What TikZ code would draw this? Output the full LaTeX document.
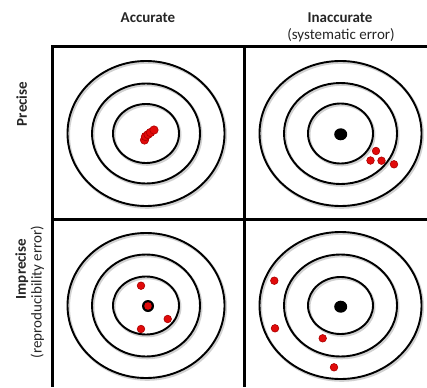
\documentclass[tikz,border=0pt]{standalone}
\usepackage{fontspec}
\setmainfont{Carlito}
\definecolor{hitred}{RGB}{225,10,10}
\definecolor{hitedge}{RGB}{170,0,0}
\begin{document}
\begin{tikzpicture}[x=1pt,y=-1pt,
  frame/.style={line width=3pt,black},
  ring/.style={line width=1.9pt,black},
  ringshadow/.style={line width=2.6pt,black!18},
  hit/.style={fill=hitred,draw=hitedge,line width=0.6pt},
  bull/.style={fill=black},
  head/.style={font=\fontsize{15}{17}\selectfont\bfseries,text=black!85,inner sep=0pt},
  sub/.style={font=\fontsize{15}{17}\selectfont,text=black!85,inner sep=0pt}]
\useasboundingbox (0,0) rectangle (427,387);
\fill[white] (0,0) rectangle (427,387);

% grid frame
\draw[frame] (52,47) -- (427,47);
\draw[frame] (52,219) -- (427,219);
\draw[frame] (52,45.5) -- (52,387);
\draw[frame] (244,45.5) -- (244,387);

% three concentric rings per target, with a soft shadow
\newcommand\target[8]{%
  \foreach \rx/\ry in {#3/#4,#5/#6,#7/#8}{
    \draw[ringshadow] (#1+1.2,#2+1.5) ellipse [x radius=\rx, y radius=\ry];}
  \foreach \rx/\ry in {#3/#4,#5/#6,#7/#8}{
    \draw[ring] (#1,#2) ellipse [x radius=\rx, y radius=\ry];}
}
\target{146}{133.5}{78.5}{72.5}{54}{50}{33}{29.5}
\target{340.5}{133.5}{81}{72.5}{56.5}{50.5}{32.5}{30}
\target{146}{305.5}{78.5}{72.5}{54}{51}{33}{29}
\target{340.5}{305.5}{81}{73.5}{56.5}{51}{32.5}{28.5}

% bull's-eyes
\fill[bull] (340.7,134.3) ellipse [x radius=6.5, y radius=6];
\fill[bull] (148,306) circle (6);
\fill[bull] (340.7,306.7) ellipse [x radius=6.5, y radius=6];

% accurate, precise: tight cluster on the centre
\foreach \p in {(144.5,140),(145.5,136.5),(148,134.5),(150.5,132.5),(154,130)}
  \draw[hit] \p circle (4.2);
% inaccurate, precise
\foreach \p in {(376,151),(370.5,160.5),(381.5,160.7),(394,164.3)}
  \draw[hit] \p circle (3.8);
% accurate, imprecise
\fill[hitred] (148,306) circle (3.8);
\foreach \p in {(141,285.7),(167.7,319),(141,329)}
  \draw[hit] \p circle (3.8);
% inaccurate, imprecise
\foreach \p in {(274.3,280.7),(275,328.3),(322.7,338.3),(334,367.3)}
  \draw[hit] \p circle (3.8);

% labels
\node[head] (acc) at (148,18) {Accurate};
\node[head] (inacc) at (340,18) {Inaccurate};
\node[sub] (syst) at (341,35) {(systematic error)};
\node[head,rotate=90] (prec) at (21.7,104) {Precise};
\node[head,rotate=90] (imprec) at (21.7,269) {Imprecise};
\node[sub,rotate=90] (repro) at (37.3,292) {(reproducibility error)};
\end{tikzpicture}
\end{document}
